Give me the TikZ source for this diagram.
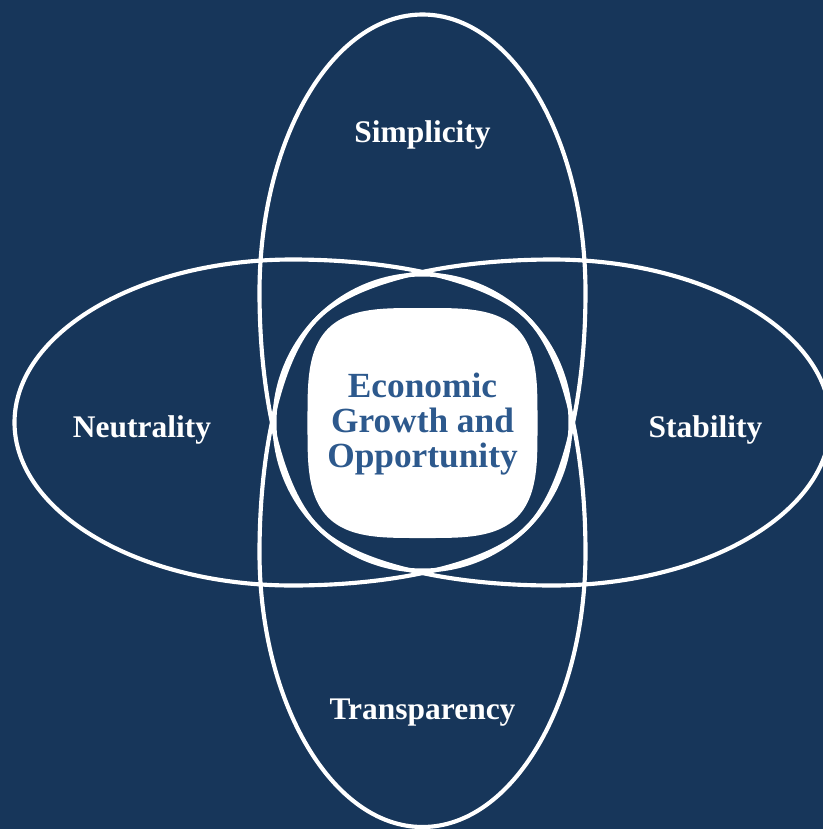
\documentclass[tikz,border=0pt]{standalone}
\usepackage{fontspec}
\setmainfont{Liberation Serif}

\definecolor{navybg}{RGB}{23,54,90}
\definecolor{coreblue}{RGB}{45,89,141}

\begin{document}
\begin{tikzpicture}[x=0.75pt,y=0.75pt,yscale=-1,xscale=1,
  ring/.style={draw=white, line width=3.1pt},
  pillar/.style={text=white, font=\fontsize{23.6}{28}\selectfont\bfseries, inner sep=0.75pt, anchor=base},
  core/.style={text=coreblue, font=\fontsize{26.5}{26.3}\selectfont\bfseries, align=center, inner sep=0.75pt}]
\useasboundingbox (0,0) rectangle (823,829);
\clip (0,0) rectangle (823,829);

%Background
\fill [navybg] (0,0) rectangle (823,829);

%Shape: Egg (left), inner tip on the middle circle
\draw [ring] (14.5,422.5) .. controls (14.5,512.5) and (139,585.5) .. (292.5,585.5) .. controls (390.4,585.5) and (488.4,566.1) .. (527.2,527.2) arc [start angle=45, end angle=-45, radius=148] .. controls (488.4,278.9) and (390.4,259.5) .. (292.5,259.5) .. controls (139,259.5) and (14.5,332.5) .. (14.5,422.5) -- cycle ;
%Shape: Egg (right)
\draw [ring] (830.5,422.5) .. controls (830.5,512.5) and (706,585.5) .. (552.5,585.5) .. controls (454.6,585.5) and (356.6,566.1) .. (317.8,527.2) arc [start angle=135, end angle=225, radius=148] .. controls (356.6,278.9) and (454.6,259.5) .. (552.5,259.5) .. controls (706,259.5) and (830.5,332.5) .. (830.5,422.5) -- cycle ;
%Shape: Egg (top)
\draw [ring] (422.5,14.5) .. controls (512.5,14.5) and (585.5,139) .. (585.5,292.5) .. controls (585.5,390.4) and (566.1,488.4) .. (527.2,527.2) arc [start angle=45, end angle=135, radius=148] .. controls (278.9,488.4) and (259.5,390.4) .. (259.5,292.5) .. controls (259.5,139) and (332.5,14.5) .. (422.5,14.5) -- cycle ;
%Shape: Egg (bottom)
\draw [ring] (317.8,317.8) arc [start angle=225, end angle=315, radius=148] .. controls (566.1,356.6) and (585.5,454.6) .. (585.5,552.5) .. controls (585.5,703) and (512.5,827) .. (422.5,827) .. controls (332.5,827) and (259.5,703) .. (259.5,552.5) .. controls (259.5,454.6) and (278.9,356.6) .. (317.8,317.8) -- cycle ;

%Shape: Squircle in the middle
\fill [white] plot [domain=1:359, samples=180]
  ({422.5+115*sign(cos(\x))*pow(abs(cos(\x)),0.57)},{423+115*sign(sin(\x))*pow(abs(sin(\x)),0.57)}) -- cycle;

% Text Node
\node [pillar] (simplicity) at (422.5,142) {Simplicity};
% Text Node
\node [pillar] (neutrality) at (142,437) {Neutrality};
% Text Node
\node [pillar] (stability) at (705.5,437) {Stability};
% Text Node
\node [pillar] (transparency) at (422.5,719) {Transparency};
% Text Node
\node [core] (growth) at (422.5,424) {Economic\\Growth and\\Opportunity};

\end{tikzpicture}
\end{document}
